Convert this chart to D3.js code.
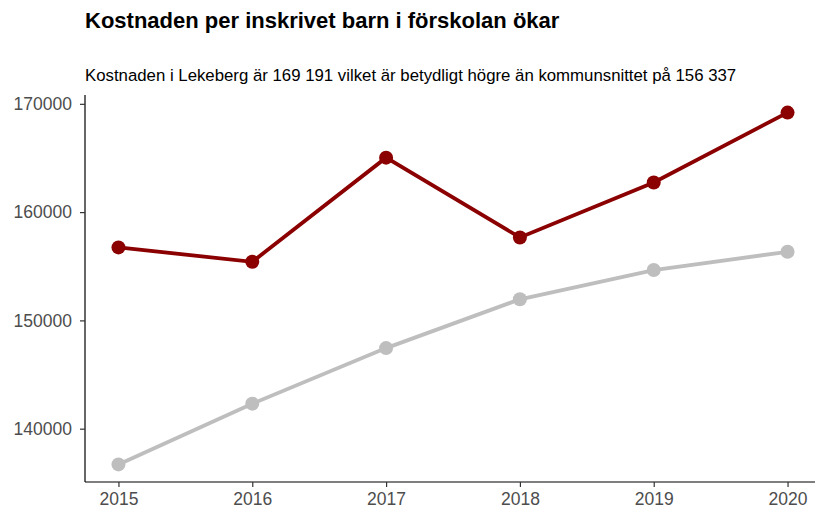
<!DOCTYPE html>
<html>
<head>
<meta charset="utf-8">
<script src="https://cdn.jsdelivr.net/npm/d3@7"></script>
<style>
  body { margin: 0; background: #fff; }
  svg { font-family: "Liberation Sans", Arial, sans-serif; display: block; }
</style>
</head>
<body>
<div id="chart"></div>
<script>
// data
const years = [2015, 2016, 2017, 2018, 2019, 2020];
const lekeberg = [156740, 155410, 165030, 157660, 162730, 169191];
const kommunsnitt = [136700, 142310, 147440, 151950, 154650, 156337];
const yTicks = [140000, 150000, 160000, 170000];

const width = 815, height = 510;
const margin = {top: 95, right: -6, bottom: 28, left: 85};

const svg = d3.select("#chart").append("svg")
    .attr("width", width)
    .attr("height", height);

// titlar
svg.append("text")
    .attr("x", 85).attr("y", 28)
    .attr("font-size", "22px")
    .attr("font-weight", "bold")
    .attr("fill", "#000")
    .text("Kostnaden per inskrivet barn i förskolan ökar");

svg.append("text")
    .attr("x", 85).attr("y", 81)
    .attr("font-size", "16.8px")
    .attr("fill", "#000")
    .text("Kostnaden i Lekeberg är 169 191 vilket är betydligt högre än kommunsnittet på 156 337");

const allVals = lekeberg.concat(kommunsnitt);
const yMin = d3.min(allVals), yMax = d3.max(allVals);
const yPad = (yMax - yMin) * 0.05;

const x = d3.scaleLinear()
    .domain([2015 - 0.25, 2020 + 0.25])
    .range([margin.left, width - margin.right]);

const y = d3.scaleLinear()
    .domain([yMin - yPad, yMax + yPad])
    .range([height - margin.bottom, margin.top]);

// axlar
const yAxis = d3.axisLeft(y).tickValues(yTicks).tickFormat(d3.format("d")).tickSize(5).tickPadding(8);
const xAxis = d3.axisBottom(x).tickValues(years).tickFormat(d3.format("d")).tickSize(5).tickPadding(6);

const gy = svg.append("g")
    .attr("transform", `translate(${margin.left},0)`)
    .call(yAxis);
const gx = svg.append("g")
    .attr("transform", `translate(0,${height - margin.bottom})`)
    .call(xAxis);

[gx, gy].forEach(g => {
    g.select(".domain").attr("stroke", "#000").attr("stroke-width", 1.2)
    g.selectAll(".tick line").attr("stroke", "#333").attr("stroke-width", 1.2)
    g.selectAll(".tick text")
        .attr("font-size", "17.5px")
        .attr("fill", "#4d4d4d")
        .attr("font-family", "Liberation Sans, Arial, sans-serif")
});
// domain utan ändstreck
gy.select(".domain").attr("d", `M0,${y.range()[0]}V${y.range()[1]}`);
gx.select(".domain").attr("d", `M${x.range()[0]},0H${x.range()[1]}`);

const series = [
    {name: "Kommunsnitt", values: kommunsnitt, color: "#bebebe"},
    {name: "Lekeberg", values: lekeberg, color: "#8b0000"}
];

const line = d3.line()
    .x((d, i) => x(years[i]))
    .y(d => y(d));

series.forEach(s => {
    svg.append("path")
        .datum(s.values)
        .attr("fill", "none")
        .attr("stroke", s.color)
        .attr("stroke-width", 3.8)
        .attr("d", line);

    svg.append("g")
        .selectAll("circle")
        .data(s.values)
        .join("circle")
        .attr("cx", (d, i) => x(years[i]))
        .attr("cy", d => y(d))
        .attr("r", 7)
        .attr("fill", s.color);
});
</script>
</body>
</html>
